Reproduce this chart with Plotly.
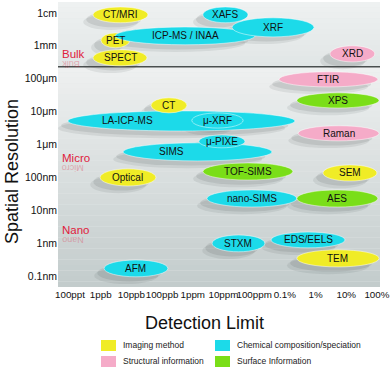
import plotly.graph_objects as go

# detection limit ticks (log10 of mass fraction) and resolution ticks (log10 of metres)
x_tickvals = [-10, -9, -8, -7, -6, -5, -4, -3, -2, -1, 0]
x_ticktext = ["100ppt", "1ppb", "10ppb", "100ppb", "1ppm", "10ppm", "100ppm",
              "0.1%", "1%", "10%", "100%"]
y_tickvals = [-2, -3, -4, -5, -6, -7, -8, -9, -10]
y_ticktext = ["1cm", "1mm", "100μm", "10μm", "1μm", "100nm", "10nm", "1nm", "0.1nm"]

# techniques: name, category, detection limit range, resolution range (log10)
names = ["CT/MRI", "PET", "SPECT", "ICP-MS / INAA", "XAFS", "XRF", "XRD",
         "FTIR", "XPS", "LA-ICP-MS", "CT", "μ-XRF", "Raman", "SIMS", "μ-PIXE",
         "TOF-SIMS", "SEM", "Optical", "nano-SIMS", "AES", "EDS/EELS", "STXM",
         "TEM", "AFM"]
categories = ["img", "img", "img", "chem", "chem", "chem", "struct",
              "struct", "surf", "chem", "img", "chem", "struct", "chem", "chem",
              "surf", "img", "img", "chem", "surf", "chem", "chem",
              "img", "chem"]
dl_low = [-9.25, -8.99, -9.25, -8.53, -5.67, -4.72, -1.53,
          -3.19, -2.61, -10.07, -7.36, -6.03, -2.57, -8.27, -5.80,
          -5.67, -1.76, -9.02, -5.54, -2.61, -3.45, -5.37,
          -2.61, -8.89]
dl_high = [-7.46, -8.05, -7.49, -3.97, -4.20, -2.05, -0.07,
           0.03, 0.07, -2.67, -6.19, -4.36, 0.07, -3.42, -4.30,
           -2.74, 0.0, -7.20, -2.61, 0.03, -1.04, -3.65,
           0.07, -6.81]
res_high = [-1.82, -2.61, -3.12, -2.43, -1.82, -2.15, -3.00,
            -3.79, -4.43, -4.98, -4.58, -5.04, -5.43, -5.95, -5.71,
            -6.56, -6.62, -6.74, -7.38, -7.38, -8.66, -8.75,
            -9.20, -9.51]
res_low = [-2.30, -3.06, -3.61, -2.97, -2.30, -2.73, -3.49,
           -4.25, -4.89, -5.59, -5.04, -5.50, -5.89, -6.50, -6.10,
           -7.08, -7.11, -7.26, -7.90, -7.90, -9.14, -9.26,
           -9.72, -10.02]

# label x for the tapered shapes whose text is not centred
label_x = {"LA-ICP-MS": -8.14, "SIMS": -6.68}

regions = ["Bulk", "Micro", "Nano"]
region_y = [-3.26, -6.41, -8.60]
bulk_boundary = -3.64

legend_labels = {"img": "Imaging method", "chem": "Chemical composition/speciation",
                 "struct": "Structural information", "surf": "Surface Information"}
colors = {"img": "#f0ec26", "chem": "#1cdae9", "struct": "#f5abc8", "surf": "#7ade18"}

X_RANGE = [-10.39, 0.10]
Y_RANGE = [-10.33, -1.67]


def mix(c1, c2, t):
    a = [int(c1[i:i + 2], 16) for i in (1, 3, 5)]
    b = [int(c2[i:i + 2], 16) for i in (1, 3, 5)]
    return "rgb(%d,%d,%d)" % tuple(round(a[k] + (b[k] - a[k]) * t) for k in range(3))


fig = go.Figure()
# invisible trace to set up the axes
fig.add_trace(go.Scatter(x=X_RANGE, y=Y_RANGE, mode="markers",
                         marker=dict(opacity=0), hoverinfo="skip", showlegend=False))

shapes = []
# background gradient
n = 40
for i in range(n):
    t0 = i / n
    y0 = bulk_boundary + (Y_RANGE[0] - bulk_boundary) * t0
    y1 = bulk_boundary + (Y_RANGE[0] - bulk_boundary) * (i + 1) / n
    shapes.append(dict(type="rect", xref="x", yref="y", x0=X_RANGE[0], x1=X_RANGE[1],
                       y0=y0, y1=y1, layer="below", line=dict(width=0),
                       fillcolor=mix("#eef0f0", "#c2cbcb", t0)))
for i in range(12):
    t0 = i / 12
    y0 = Y_RANGE[1] + (bulk_boundary - Y_RANGE[1]) * t0
    y1 = Y_RANGE[1] + (bulk_boundary - Y_RANGE[1]) * (i + 1) / 12
    shapes.append(dict(type="rect", xref="x", yref="y", x0=X_RANGE[0], x1=X_RANGE[1],
                       y0=y0, y1=y1, layer="below", line=dict(width=0),
                       fillcolor=mix("#eef1f1", "#e0e5e5", t0)))
shapes.append(dict(type="line", xref="x", yref="y", x0=X_RANGE[0], x1=X_RANGE[1],
                   y0=bulk_boundary, y1=bulk_boundary, line=dict(color="#4a4f4f", width=1.5)))

# soft shadows
for k in range(len(names)):
    for dx, dy, op in [(-0.32, -0.22, 0.10), (-0.22, -0.14, 0.13)]:
        shapes.append(dict(type="circle", xref="x", yref="y",
                           x0=dl_low[k] + dx, x1=dl_high[k] + dx,
                           y0=res_low[k] + dy, y1=res_high[k] + dy,
                           fillcolor="rgba(70,80,80,%.2f)" % op, line=dict(width=0)))
# ellipses
for k in range(len(names)):
    shapes.append(dict(type="circle", xref="x", yref="y",
                       x0=dl_low[k], x1=dl_high[k], y0=res_low[k], y1=res_high[k],
                       fillcolor=colors[categories[k]],
                       line=dict(color="rgba(255,255,255,0.6)", width=0.8)))

annotations = []
for k in range(len(names)):
    annotations.append(dict(x=label_x.get(names[k], (dl_low[k] + dl_high[k]) / 2),
                            y=(res_low[k] + res_high[k]) / 2, xref="x", yref="y",
                            text=names[k], showarrow=False,
                            font=dict(size=10, color="#111111")))

for name, yv in zip(regions, region_y):
    annotations.append(dict(x=X_RANGE[0] + 0.06, y=yv, xref="x", yref="y", text=name,
                            xanchor="left", showarrow=False,
                            font=dict(size=11.5, color="#e0203c")))
    annotations.append(dict(x=X_RANGE[0] + 0.06, y=yv - 0.30, xref="x", yref="y",
                            text=name, xanchor="left", showarrow=False, textangle=180,
                            opacity=0.3, font=dict(size=9, color="#e0203c")))


# pixel helpers for the legend block and axis titles
def px(v):
    return (v - 58) / 322


def py(v):
    return (287 - v) / 285


legend_slots = [("img", 101, 340), ("struct", 101, 356), ("chem", 215, 340), ("surf", 215, 356)]
for cat, lx, ly in legend_slots:
    shapes.append(dict(type="rect", xref="paper", yref="paper",
                       x0=px(lx), x1=px(lx + 15), y0=py(ly), y1=py(ly + 11),
                       fillcolor=colors[cat], line=dict(width=0)))
    annotations.append(dict(x=px(lx + 20), y=py(ly + 4.5), xref="paper", yref="paper",
                            text=legend_labels[cat], xanchor="left", yanchor="middle",
                            showarrow=False, font=dict(size=8.5, color="#222222")))

annotations.append(dict(x=px(204), y=py(323), xref="paper", yref="paper",
                        text="Detection Limit", showarrow=False,
                        xanchor="center", yanchor="middle",
                        font=dict(size=18, color="#111111")))
annotations.append(dict(x=px(12), y=py(172), xref="paper", yref="paper",
                        text="Spatial Resolution", showarrow=False, textangle=-90,
                        xanchor="center", yanchor="middle",
                        font=dict(size=18, color="#111111")))

fig.update_layout(
    width=390, height=369,
    margin=dict(l=58, r=10, t=2, b=82, autoexpand=False),
    paper_bgcolor="white",
    plot_bgcolor="#e6eaea",
    font=dict(family="Arial, Liberation Sans, sans-serif"),
    shapes=shapes,
    annotations=annotations,
    showlegend=False,
    xaxis=dict(range=X_RANGE, tickvals=x_tickvals, ticktext=x_ticktext, showgrid=False,
               zeroline=False, showline=False, ticks="", tickangle=0, automargin=False,
               ticklabeloverflow="allow",
               tickfont=dict(size=9.8, color="#111111"), fixedrange=True),
    yaxis=dict(range=Y_RANGE, tickvals=y_tickvals, ticktext=y_ticktext, showgrid=False,
               zeroline=False, showline=False, ticks="", automargin=False,
               tickfont=dict(size=10.5, color="#111111"), fixedrange=True),
)

# drop the browser's default page margin so the figure sits at the window corner
fig.write_html("out.html", config={"displayModeBar": False},
               post_script="document.body.style.margin='0';")
